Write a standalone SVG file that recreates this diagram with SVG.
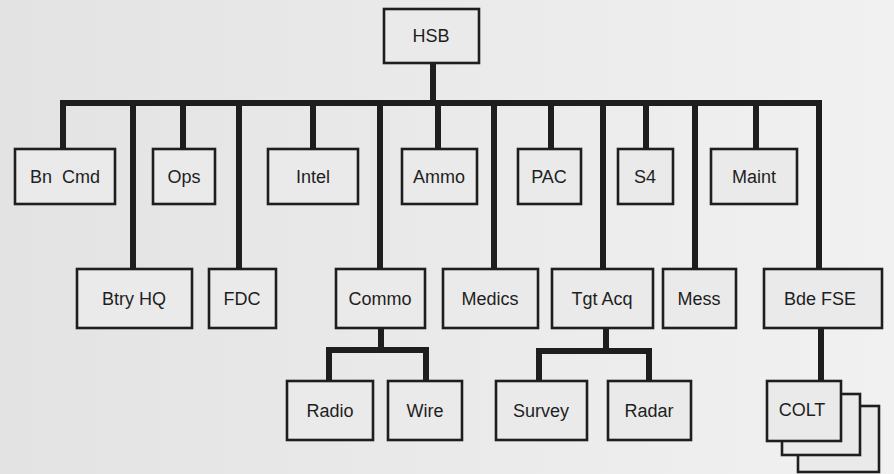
<svg xmlns="http://www.w3.org/2000/svg" width="894" height="474" viewBox="0 0 894 474">
<defs>
<linearGradient id="bg" x1="0" y1="0" x2="1" y2="0">
<stop offset="0" stop-color="#e3e3e3"/>
<stop offset="1" stop-color="#f1f1f1"/>
</linearGradient>
<style>
.box{fill:#eaeaea;stroke:#1e1e1e;stroke-width:2.6}
.lbl{font-family:"Liberation Sans",Arial,sans-serif;font-size:18px;fill:#1e1e1e;text-anchor:middle}
.con{fill:none;stroke:#1e1e1e;stroke-width:6;stroke-linejoin:miter;stroke-linecap:butt}
</style>
</defs>
<rect width="894" height="474" fill="url(#bg)"/>
<g id="connectors">
<path class="con" d="M433,63 V103"/>
<path class="con" d="M63,149 V103 H819 V269"/>
<path class="con" d="M183,103 V149 M313,103 V149 M438,103 V149 M551,103 V149 M646,103 V149 M756,103 V149"/>
<path class="con" d="M133,103 V269 M239,103 V269 M380,103 V269 M494,103 V269 M603,103 V269 M695,103 V269"/>
<path class="con" d="M381,328 V350"/>
<path class="con" d="M329,381 V350 H426 V381"/>
<path class="con" d="M606,328 V351"/>
<path class="con" d="M539,381 V351 H649 V381"/>
<path class="con" d="M821,328 V381"/>
</g>
<g id="HSB"><rect class="box" x="384" y="9" width="95" height="54"/><text class="lbl" x="431" y="42">HSB</text></g>
<g id="BnCmd"><rect class="box" x="15" y="149" width="100" height="55"/><text class="lbl" x="65" y="183" xml:space="preserve">Bn  Cmd</text></g>
<g id="Ops"><rect class="box" x="153" y="149" width="62" height="55"/><text class="lbl" x="184" y="183">Ops</text></g>
<g id="Intel"><rect class="box" x="268" y="149" width="90" height="55"/><text class="lbl" x="313" y="183">Intel</text></g>
<g id="Ammo"><rect class="box" x="402" y="149" width="75" height="55"/><text class="lbl" x="439" y="183">Ammo</text></g>
<g id="PAC"><rect class="box" x="518" y="149" width="63" height="55"/><text class="lbl" x="549" y="183">PAC</text></g>
<g id="S4"><rect class="box" x="618" y="149" width="55" height="55"/><text class="lbl" x="645" y="183">S4</text></g>
<g id="Maint"><rect class="box" x="711" y="149" width="86" height="55"/><text class="lbl" x="754" y="183">Maint</text></g>
<g id="BtryHQ"><rect class="box" x="77" y="269" width="115" height="59"/><text class="lbl" x="134" y="305">Btry HQ</text></g>
<g id="FDC"><rect class="box" x="209" y="269" width="67" height="59"/><text class="lbl" x="242" y="305">FDC</text></g>
<g id="Commo"><rect class="box" x="336" y="269" width="89" height="59"/><text class="lbl" x="380" y="305">Commo</text></g>
<g id="Medics"><rect class="box" x="443" y="269" width="95" height="59"/><text class="lbl" x="490" y="305">Medics</text></g>
<g id="TgtAcq"><rect class="box" x="552" y="269" width="101" height="59"/><text class="lbl" x="602" y="305">Tgt Acq</text></g>
<g id="Mess"><rect class="box" x="663" y="269" width="73" height="59"/><text class="lbl" x="699" y="305">Mess</text></g>
<g id="BdeFSE"><rect class="box" x="764" y="269" width="118" height="59"/><text class="lbl" x="820" y="305">Bde FSE</text></g>
<g id="Radio"><rect class="box" x="287" y="381" width="86" height="59"/><text class="lbl" x="330" y="417">Radio</text></g>
<g id="Wire"><rect class="box" x="388" y="381" width="74" height="59"/><text class="lbl" x="425" y="417">Wire</text></g>
<g id="Survey"><rect class="box" x="496" y="381" width="91" height="59"/><text class="lbl" x="541" y="417">Survey</text></g>
<g id="Radar"><rect class="box" x="608" y="381" width="83" height="59"/><text class="lbl" x="649" y="417">Radar</text></g>
<g id="COLT">
<rect class="box" x="798" y="406" width="81" height="66"/>
<rect class="box" x="782" y="394" width="78" height="61"/>
<rect class="box" x="767" y="381" width="74" height="60"/>
<text class="lbl" x="802" y="416">COLT</text>
</g>
</svg>
